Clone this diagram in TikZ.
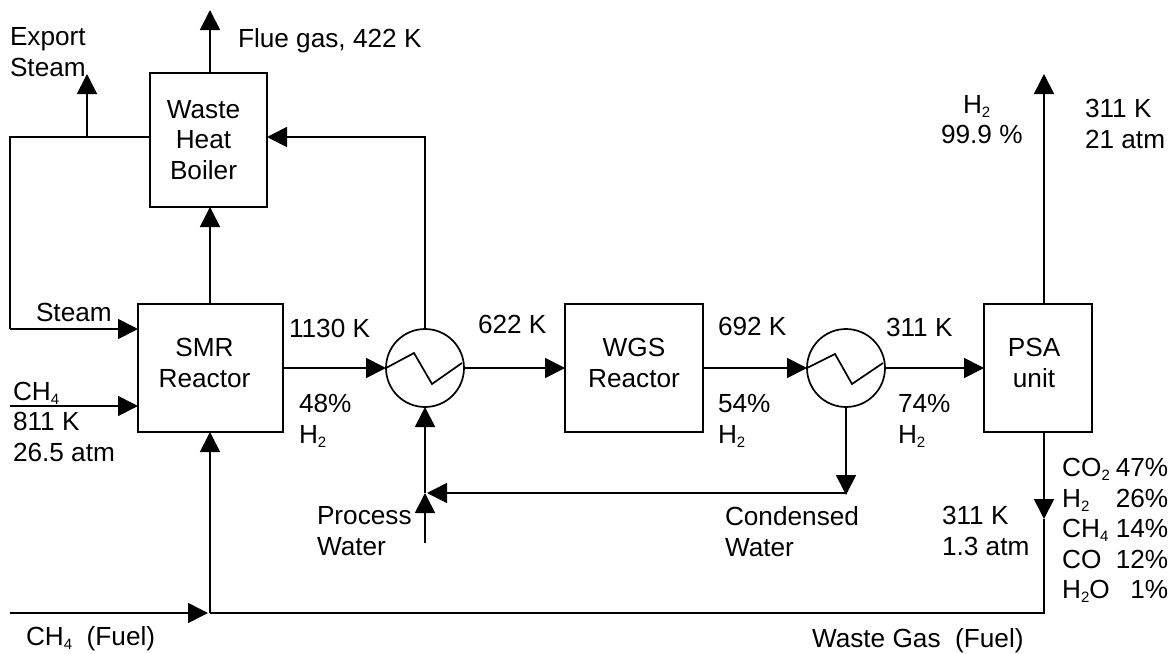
\documentclass[tikz,border=0pt]{standalone}
\usepackage{fontspec}
\setmainfont{Liberation Sans}
\usetikzlibrary{arrows.meta}
\newcommand{\subn}[1]{\raisebox{-0.16em}{\fontsize{15}{15}\selectfont #1}}
\tikzset{
  ln/.style={line width=1.7pt},
  arr/.style={ln,-{Triangle[width=20pt,length=20pt]}},
  unitbox/.style={draw,ln,rectangle,inner sep=0pt,outer sep=0pt},
  hx/.style={draw,ln,circle,minimum size=78pt,inner sep=0pt,outer sep=0pt},
  lbl/.style={inner sep=0pt,outer sep=0pt,anchor=base west,align=left},
  boxtxt/.style={inner sep=0pt,align=center},
}
\begin{document}
\begin{tikzpicture}[x=1pt,y=-1pt,font=\fontsize{26.2}{30.5}\selectfont]
\useasboundingbox (0,0) rectangle (1174,653);
% units
\node[unitbox,minimum width=117pt,minimum height=134pt,
  label={[name=whbtxt,boxtxt,xshift=-5pt]center:Waste\\Heat\\Boiler}] (whb) at (208.5,140) {};
\node[unitbox,minimum width=145pt,minimum height=128pt,
  label={[name=smrtxt,boxtxt,xshift=-6pt,yshift=5pt]center:SMR\\Reactor}] (smr) at (210.5,368) {};
\node[unitbox,minimum width=138pt,minimum height=128pt,
  label={[name=wgstxt,boxtxt,yshift=5pt]center:WGS\\Reactor}] (wgs) at (634,368) {};
\node[unitbox,minimum width=108pt,minimum height=128pt,
  label={[name=psatxt,boxtxt,yshift=5pt,xshift=-4pt]center:PSA\\unit}] (psa) at (1038,368) {};
\node[hx] (hxa) at (425,368) {};
\node[hx] (hxb) at (846,368) {};
\draw[ln] (hxa.west) -- ++(28,-15) -- ++(18,31) -- ++(30,-21);
\draw[ln] (hxb.west) -- ++(28,-14) -- ++(17,30) -- ++(31,-21);
% junctions and free ends
\coordinate (flue) at (210,10);
\coordinate (exp) at (87,74);
\coordinate (expj) at (87,137);
\coordinate (whbl) at (150,137);
\coordinate (whbr) at (267,137);
\coordinate (loopc) at (10,137);
\coordinate (steamc) at (10,329);
\coordinate (steamt) at (138,329);
\coordinate (chin) at (10,406);
\coordinate (cht) at (138,406);
\coordinate (fuelin) at (10,613);
\coordinate (fuelt) at (208,613);
\coordinate (fuelj) at (210,613);
\coordinate (h2out) at (1044,74);
\coordinate (wgt) at (1044,519);
\coordinate (wgc) at (1044,613);
\coordinate (pwin) at (425,543);
\coordinate (pwt) at (425,493);
\coordinate (cwc) at (846,493);
\coordinate (cwt) at (846,495);
\coordinate (cwh) at (427,493);
% connectors
\draw[arr] (flue |- whb.north) -- (flue);
\draw[arr] (expj) -- (exp);
\draw[ln] (whbl) -- (loopc) -- (steamc);
\draw[arr] (steamc) -- (steamt);
\draw[arr] (chin) -- (cht);
\draw[arr] (fuelj |- smr.north) -- (fuelj |- whb.south);
\draw[arr] (smr.east) -- (hxa.west);
\draw[arr] (hxa.east) -- (wgs.west);
\draw[arr] (wgs.east) -- (hxb.west);
\draw[arr] (hxb.east) -- (psa.west);
\draw[arr] (hxa.north) |- (whbr);
\draw[arr] (pwt) -- (hxa.south);
\draw[arr] (pwin) -- (pwt);
\draw[arr] (hxb.south) -- (cwt);
\draw[arr] (cwc) -- (cwh);
\draw[arr] (h2out |- psa.north) -- (h2out);
\draw[arr] (h2out |- psa.south) -- (wgt);
\draw[ln] (wgt) -- (wgc) -- (fuelj);
\draw[arr] (fuelin) -- (fuelt);
\draw[arr] (fuelj) -- (fuelj |- smr.south);
% labels
\node[lbl] (t1) at (10,76) {Export\\Steam};
\node[lbl] (t2) at (238,47) {Flue gas, 422 K};
\node[lbl] (t3) at (36,321) {Steam};
\node[lbl] (t4) at (13,400) {CH\subn{4}};
\node[lbl] (t5) at (13,461) {811 K\\26.5 atm};
\node[lbl] (t6) at (289,337) {1130 K};
\node[lbl] (t7) at (299,443) {48\%\\H\subn{2}};
\node[lbl] (t8) at (478,333) {622 K};
\node[lbl] (t9) at (718,335) {692 K};
\node[lbl] (t10) at (718,443) {54\%\\H\subn{2}};
\node[lbl] (t11) at (886,336) {311 K};
\node[lbl] (t12) at (898,443) {74\%\\H\subn{2}};
\node[lbl] (t13) at (963,113) {H\subn{2}};
\node[lbl] (t14) at (941,143) {99.9 \%};
\node[lbl] (t15) at (1085,148) {311 K\\21 atm};
\node[lbl] (t16) at (317,555) {Process\\Water};
\node[lbl] (t17) at (725,556) {Condensed\\Water};
\node[lbl] (t18) at (942,555) {311 K\\1.3 atm};
\node[lbl] (t19) at (26,645) {CH\subn{4}\ \ (Fuel)};
\node[lbl] (t20) at (812,647) {Waste Gas\ \ (Fuel)};
\node[inner sep=0pt,anchor=north west] (t21) at (1062,455) {%
  \begin{tabular}{@{}l@{\hspace{6pt}}r@{}}
  CO\subn{2} & 47\%\\ H\subn{2} & 26\%\\ CH\subn{4} & 14\%\\ CO & 12\%\\ H\subn{2}O & 1\%
  \end{tabular}};
\end{tikzpicture}
\end{document}
